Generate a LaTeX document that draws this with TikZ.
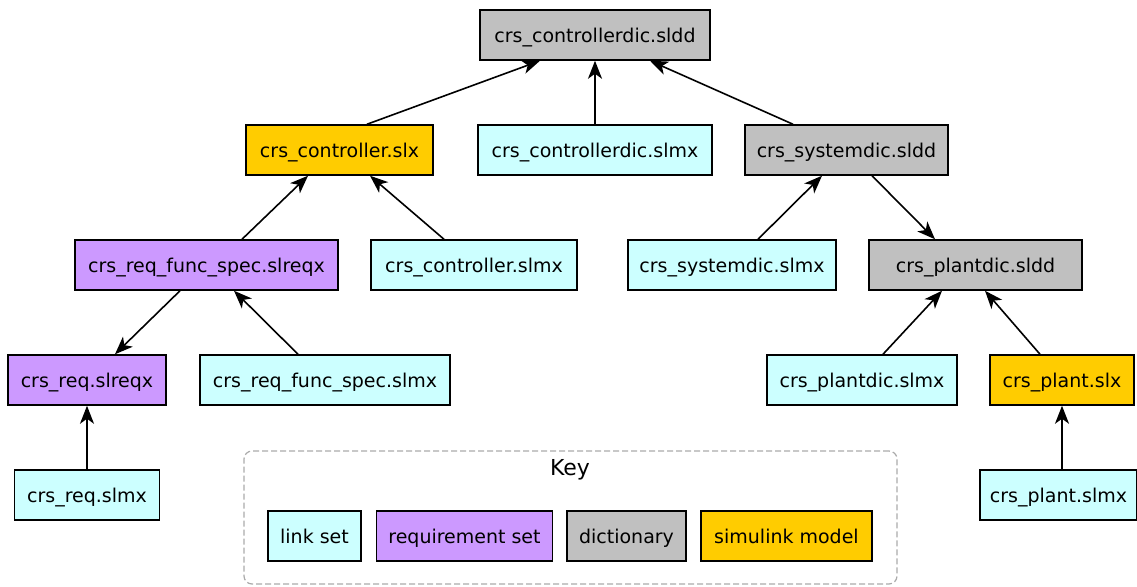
\documentclass[tikz,border=0pt]{standalone}
\usepackage{fontspec}
\setmainfont{DejaVu Sans}
\usetikzlibrary{arrows.meta}
\definecolor{linkcol}{HTML}{CCFFFF}
\definecolor{reqcol}{HTML}{CC99FF}
\definecolor{dictcol}{HTML}{C0C0C0}
\definecolor{slxcol}{HTML}{FFCC00}
\definecolor{keycol}{HTML}{AAAAAA}
\tikzset{
  file/.style={draw=black, line width=1.5pt, minimum height=50pt, inner sep=0pt,
    text height=16pt, text depth=1pt, font=\fontsize{19}{21}\selectfont},
  linkset/.style={file, fill=linkcol},
  reqset/.style={file, fill=reqcol},
  dictfile/.style={file, fill=dictcol},
  model/.style={file, fill=slxcol},
  dep/.style={-{Stealth[length=18pt, width=14pt, inset=5pt]}, line width=1.6pt},
}

\begin{document}
\begin{tikzpicture}[x=1pt, y=-1pt]
  \useasboundingbox (0,0) rectangle (1137,586);
  \node[dictfile, minimum width=230] (cdic) at (595,35) {crs\_controllerdic.sldd};
  \node[model, minimum width=187] (ctrl) at (339.5,150) {crs\_controller.slx};
  \node[linkset, minimum width=234] (cdicm) at (595,150) {crs\_controllerdic.slmx};
  \node[dictfile, minimum width=203] (sdic) at (846.5,150) {crs\_systemdic.sldd};
  \node[reqset, minimum width=263] (rfs) at (206.5,265) {crs\_req\_func\_spec.slreqx};
  \node[linkset, minimum width=206] (ctrlm) at (474,265) {crs\_controller.slmx};
  \node[linkset, minimum width=208] (sdicm) at (732,265) {crs\_systemdic.slmx};
  \node[dictfile, minimum width=213] (pdic) at (975.5,265) {crs\_plantdic.sldd};
  \node[reqset, minimum width=158] (req) at (87,380) {crs\_req.slreqx};
  \node[linkset, minimum width=250] (rfsm) at (325,380) {crs\_req\_func\_spec.slmx};
  \node[linkset, minimum width=190] (pdicm) at (862,380) {crs\_plantdic.slmx};
  \node[model, minimum width=144] (plant) at (1062,380) {crs\_plant.slx};
  \node[linkset, minimum width=145] (reqm) at (87,495) {crs\_req.slmx};
  \node[linkset, minimum width=157] (plantm) at (1058.5,495) {crs\_plant.slmx};

  \draw[dep] ([xshift=27.5pt]ctrl.north) -- ([xshift=-55pt]cdic.south);
  \draw[dep] (cdicm.north) -- (cdic.south);
  \draw[dep] ([xshift=-53.5pt]sdic.north) -- ([xshift=55pt]cdic.south);
  \draw[dep] ([xshift=35.5pt]rfs.north) -- ([xshift=-31.5pt]ctrl.south);
  \draw[dep] ([xshift=-30pt]ctrlm.north) -- ([xshift=30.5pt]ctrl.south);
  \draw[dep] ([xshift=26pt]sdicm.north) -- ([xshift=-24.5pt]sdic.south);
  \draw[dep] ([xshift=25.5pt]sdic.south) -- ([xshift=-40.5pt]pdic.north);
  \draw[dep] ([xshift=-26.5pt]rfs.south) -- ([xshift=28pt]req.north);
  \draw[dep] ([xshift=-27pt]rfsm.north) -- ([xshift=27.5pt]rfs.south);
  \draw[dep] ([xshift=21pt]pdicm.north) -- ([xshift=-33.5pt]pdic.south);
  \draw[dep] ([xshift=-22pt]plant.north) -- ([xshift=9.5pt]pdic.south);
  \draw[dep] (reqm.north) -- (req.south);
  \draw[dep] ([xshift=3.5pt]plantm.north) -- (plant.south);

  \node[draw=keycol, line width=1.2pt, dash pattern=on 6pt off 3pt, rounded corners=8pt,
    minimum width=653, minimum height=133, inner sep=0pt] (key) at (570.5,517.5) {};
  \node[font=\fontsize{22}{24}\selectfont] (keytitle) at (570,470) {Key};
  \node[linkset, minimum width=93] (keylink) at (314.5,536) {link set};
  \node[reqset, minimum width=176] (keyreq) at (464.5,536) {requirement set};
  \node[dictfile, minimum width=119] (keydict) at (626.5,536) {dictionary};
  \node[model, minimum width=171] (keyslx) at (786.5,536) {simulink model};
\end{tikzpicture}
\end{document}
